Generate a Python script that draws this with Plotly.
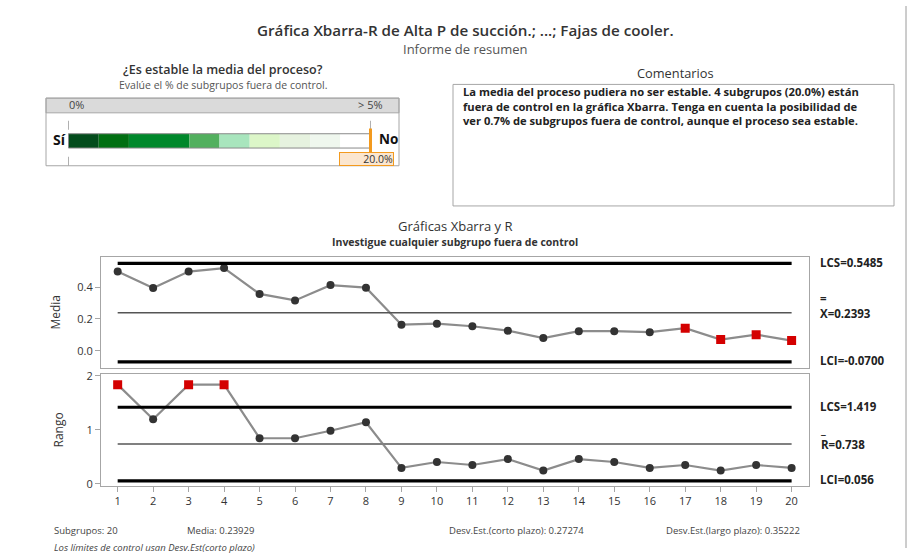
import plotly.graph_objects as go

W, H = 909, 553

# ---- data ----
subgroups = list(range(1, 21))
xbar_values = [0.497, 0.394, 0.497, 0.519, 0.357, 0.316, 0.412, 0.396, 0.164, 0.170,
               0.154, 0.126, 0.080, 0.123, 0.123, 0.117, 0.142, 0.070, 0.101, 0.064]
range_values = [1.837, 1.196, 1.837, 1.837, 0.846, 0.846, 0.985, 1.141, 0.297, 0.406,
                0.351, 0.460, 0.248, 0.460, 0.406, 0.297, 0.351, 0.248, 0.351, 0.297]
xbar_flagged = [17, 18, 19, 20]
range_flagged = [1, 3, 4]

xbar_lcs, xbar_center, xbar_lci = 0.5485, 0.2393, -0.0700
range_lcs, range_center, range_lci = 1.419, 0.738, 0.056

# stability meter: segment widths (percent) and colours
meter_widths = [0.5, 0.5, 1.0, 0.5, 0.5, 0.5, 0.5, 0.5, 0.5]
meter_colors = ["#034c1c", "#016f12", "#00882b", "#52b05e", "#a8e5bd",
                "#dcf6c8", "#e6f2df", "#eff7ee", "#ffffff"]
meter_max = 5.0
pct_out = 20.0

FONT = "Open Sans"
DARK = "#262626"


def X(px):
    return px / W


def Y(py):
    return 1 - py / H


fig = go.Figure()

# ---- Xbar chart ----
fig.add_trace(go.Scatter(x=subgroups, y=xbar_values, mode="lines",
                         line=dict(color="#8c8c8c", width=2.2),
                         xaxis="x", yaxis="y", hoverinfo="skip"))
ok_x = [s for s in subgroups if s not in xbar_flagged]
fig.add_trace(go.Scatter(x=ok_x, y=[xbar_values[s - 1] for s in ok_x], mode="markers",
                         marker=dict(color="#333333", size=8, symbol="circle"),
                         xaxis="x", yaxis="y"))
fig.add_trace(go.Scatter(x=xbar_flagged, y=[xbar_values[s - 1] for s in xbar_flagged],
                         mode="markers",
                         marker=dict(color="#d40000", size=9, symbol="square"),
                         xaxis="x", yaxis="y"))
for val, col, wd in [(xbar_lcs, "#000000", 3.2), (xbar_lci, "#000000", 3.2),
                     (xbar_center, "#555555", 1.5)]:
    fig.add_trace(go.Scatter(x=[subgroups[0], subgroups[-1]], y=[val, val], mode="lines",
                             line=dict(color=col, width=wd), xaxis="x", yaxis="y",
                             hoverinfo="skip"))

# ---- R chart ----
fig.add_trace(go.Scatter(x=subgroups, y=range_values, mode="lines",
                         line=dict(color="#8c8c8c", width=2.2),
                         xaxis="x2", yaxis="y2", hoverinfo="skip"))
ok_r = [s for s in subgroups if s not in range_flagged]
fig.add_trace(go.Scatter(x=ok_r, y=[range_values[s - 1] for s in ok_r], mode="markers",
                         marker=dict(color="#333333", size=8, symbol="circle"),
                         xaxis="x2", yaxis="y2"))
fig.add_trace(go.Scatter(x=range_flagged, y=[range_values[s - 1] for s in range_flagged],
                         mode="markers",
                         marker=dict(color="#d40000", size=9, symbol="square"),
                         xaxis="x2", yaxis="y2"))
for val, col, wd in [(range_lcs, "#000000", 3.2), (range_lci, "#000000", 3.2),
                     (range_center, "#808080", 2)]:
    fig.add_trace(go.Scatter(x=[subgroups[0], subgroups[-1]], y=[val, val], mode="lines",
                             line=dict(color=col, width=wd), xaxis="x2", yaxis="y2",
                             hoverinfo="skip"))

# ---- stability meter ----
start = 0.0
for w, c in zip(meter_widths, meter_colors):
    fig.add_trace(go.Bar(x=[w], base=[start], y=[0.47], width=0.27, orientation="h",
                         marker=dict(color=c, line=dict(width=0)),
                         xaxis="x3", yaxis="y3", hoverinfo="skip"))
    start += w

box_gray = "#a6a6a6"
axis_common = dict(showgrid=False, zeroline=False, linecolor=box_gray, linewidth=1,
                   mirror=True, showline=True, fixedrange=True)

fig.update_layout(
    width=W, height=H, margin=dict(l=0, r=0, t=0, b=0),
    paper_bgcolor="white", plot_bgcolor="white", showlegend=False,
    barmode="overlay",
    font=dict(family=FONT, color=DARK),
    xaxis=dict(domain=[X(101), X(809)], range=[0.53, 20.49], anchor="y",
               showticklabels=False, ticks="", **axis_common),
    yaxis=dict(domain=[Y(369), Y(256)], range=[-0.106, 0.589], anchor="x",
               tickvals=[0, 0.2, 0.4], tickformat=".1f", ticks="outside", ticklen=5,
               tickcolor=box_gray, tickfont=dict(size=11, color="#333333"),
               title=dict(text="Media", font=dict(size=12, color="#333333"), standoff=14),
               **axis_common),
    xaxis2=dict(domain=[X(101), X(809)], range=[0.53, 20.49], anchor="y2",
                tickvals=subgroups, ticks="outside", ticklen=5, tickcolor=box_gray,
                tickfont=dict(size=11, color="#333333"), **axis_common),
    yaxis2=dict(domain=[Y(490), Y(375)], range=[-0.042, 2.042], anchor="x2",
                tickvals=[0, 1, 2], ticks="outside", ticklen=5, tickcolor=box_gray,
                tickfont=dict(size=11, color="#333333"),
                title=dict(text="Rango", font=dict(size=12, color="#333333"), standoff=20),
                **axis_common),
    xaxis3=dict(domain=[X(46), X(399)], range=[-0.3725, 5.472], anchor="y3",
                visible=False, fixedrange=True),
    yaxis3=dict(domain=[Y(163), Y(109)], range=[0, 1], anchor="x3",
                visible=False, fixedrange=True),
)

shapes = []
# meter frame and header band
shapes.append(dict(type="rect", xref="paper", yref="paper", x0=X(46), x1=X(399),
                   y0=Y(163), y1=Y(94), line=dict(color=box_gray, width=1),
                   fillcolor="rgba(0,0,0,0)", layer="above"))
shapes.append(dict(type="rect", xref="paper", yref="paper", x0=X(46), x1=X(399),
                   y0=Y(109), y1=Y(94), line=dict(color=box_gray, width=1),
                   fillcolor="#dadada", layer="below"))
for xv in (0.0, meter_max):
    shapes.append(dict(type="line", xref="x3", yref="paper", x0=xv, x1=xv,
                       y0=Y(163), y1=Y(109),
                       line=dict(color="#b0b0b0", width=1, dash="dash"), layer="below"))
# bar outline
shapes.append(dict(type="rect", xref="x3", yref="y3", x0=0, x1=meter_max,
                   y0=0.47 - 0.135, y1=0.47 + 0.135,
                   line=dict(color="#8a8a8a", width=1), fillcolor="rgba(0,0,0,0)",
                   layer="above"))
# result marker (capped at the meter maximum)
marker_pos = min(pct_out, meter_max)
shapes.append(dict(type="line", xref="x3", yref="paper", x0=marker_pos, x1=marker_pos,
                   y0=Y(150), y1=Y(125), line=dict(color="#f39a1e", width=3),
                   layer="above"))
# comments box
shapes.append(dict(type="rect", xref="paper", yref="paper", x0=X(453), x1=X(894),
                   y0=Y(204), y1=Y(80), line=dict(color=box_gray, width=1),
                   fillcolor="rgba(0,0,0,0)"))
# right page edge
shapes.append(dict(type="line", xref="paper", yref="paper", x0=X(906), x1=X(906),
                   y0=0, y1=1, line=dict(color="#9a9a9a", width=1)))
fig.update_layout(shapes=shapes)

ann = []


def text(px, py, s, size=10, color=DARK, xanchor="left", weight="normal",
         italic=False, **kw):
    ann.append(dict(x=X(px), y=Y(py), xref="paper", yref="paper", text=s,
                    showarrow=False, xanchor=xanchor, yanchor="middle",
                    font=dict(size=size, color=color, family=FONT, weight=weight,
                              style="italic" if italic else "normal"), **kw))


# report heading
text(465, 24, "Gráfica Xbarra-R de Alta P de succión.; ...; Fajas de cooler.", size=15.2,
     color="#333333", xanchor="center", weight=600, borderpad=0)
text(465, 43.5, "Informe de resumen", size=13, color="#555555", xanchor="center",
     borderpad=0)

# stability meter
text(223, 65, "¿Es estable la media del proceso?", size=12.5, color="#333333",
     xanchor="center", weight=600, borderpad=0)
text(223, 81, "Evalúe el % de subgrupos fuera de control.", size=10.5, color="#555555",
     xanchor="center", borderpad=0)
text(67, 100, "0%", size=11, color="#444444")
text(370, 100, "&gt; 5%", size=11, color="#444444", xanchor="center")
text(60, 136, "Sí", size=14, color="#111111", xanchor="center", weight="bold")
text(388, 136, "No", size=13.5, color="#111111", xanchor="center", weight="bold")
ann.append(dict(x=X(394), y=Y(156), xref="paper", yref="paper",
                text=f"{pct_out:.1f}%", showarrow=False, xanchor="right", yanchor="middle",
                font=dict(size=10.5, color="#333333", family=FONT),
                bgcolor="#fbe6cf", bordercolor="#f39a1e", borderwidth=1, borderpad=0,
                width=53, align="right", height=12))

# comments panel
text(675, 68, "Comentarios", size=12.8, color="#333333", xanchor="center")
comment_lines = [
    "La media del proceso pudiera no ser estable. 4 subgrupos (20.0%) están",
    "fuera de control en la gráfica Xbarra. Tenga en cuenta la posibilidad de",
    "ver 0.7% de subgrupos fuera de control, aunque el proceso sea estable.",
]
text(462, 102, "<br>".join(comment_lines), size=11.2, color="#222222", weight="bold",
     align="left", borderpad=0)

# chart headings
text(455, 224.5, "Gráficas Xbarra y R", size=13, color="#333333", xanchor="center",
     borderpad=0)
text(455, 240.5, "Investigue cualquier subgrupo fuera de control", size=10.5,
     color="#333333", xanchor="center", weight="bold", borderpad=0)

# control limit labels
LBL = 11.5
text(818, 262, f"LCS={xbar_lcs:.4f}", size=LBL, color="#222222", weight="bold")
text(818, 306, f"=<br>X={xbar_center:.4f}", size=LBL, color="#222222", weight="bold",
     align="left")
text(818, 362, f"LCI={xbar_lci:.4f}", size=LBL, color="#222222", weight="bold")
text(818, 409, f"LCS={range_lcs:.3f}", size=LBL, color="#222222", weight="bold")
text(818, 440, f"_<br>R={range_center:.3f}", size=LBL, color="#222222", weight="bold",
     align="left")
text(818, 483, f"LCI={range_lci:.3f}", size=LBL, color="#222222", weight="bold")

# summary footer
text(52, 535, f"Subgrupos: {len(subgroups)}", size=9.5, color="#444444")
text(185, 535, "Media: 0.23929", size=9.5, color="#444444")
text(447, 535, "Desv.Est.(corto plazo): 0.27274", size=9.5, color="#444444")
text(664, 535, "Desv.Est.(largo plazo): 0.35222", size=9.5, color="#444444")
text(52, 552, "Los límites de control usan Desv.Est(corto plazo)", size=9.5,
     color="#444444", italic=True)

fig.update_layout(annotations=ann)
fig.write_html("out.html")
